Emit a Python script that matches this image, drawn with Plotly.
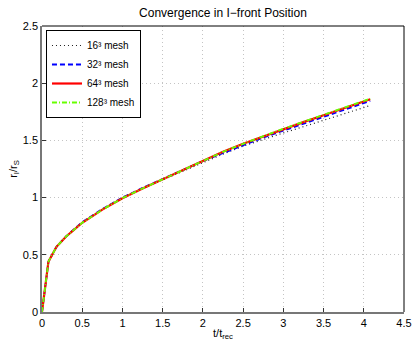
import plotly.graph_objects as go

# values
t = [0, 0.08, 0.18, 0.3, 0.4, 0.5, 0.75, 1.0, 1.25, 1.5, 1.75, 2.0, 2.25,
     2.5, 2.75, 3.0, 3.25, 3.5, 3.75, 4.0, 4.08]
r16 = [0, 0.44, 0.57, 0.66, 0.72, 0.785, 0.9, 1.0, 1.08, 1.155, 1.235, 1.31,
       1.38, 1.45, 1.51, 1.565, 1.62, 1.675, 1.73, 1.785, 1.805]
r32 = [0, 0.44, 0.57, 0.66, 0.725, 0.785, 0.9, 1.0, 1.085, 1.16, 1.24, 1.32,
       1.39, 1.46, 1.525, 1.585, 1.645, 1.705, 1.765, 1.825, 1.845]
r64 = [0, 0.44, 0.57, 0.66, 0.72, 0.78, 0.895, 0.995, 1.08, 1.16, 1.245,
       1.325, 1.4, 1.47, 1.535, 1.6, 1.66, 1.72, 1.78, 1.84, 1.86]
r128 = [0, 0.44, 0.57, 0.66, 0.72, 0.78, 0.895, 0.995, 1.08, 1.16, 1.245,
        1.325, 1.4, 1.47, 1.537, 1.602, 1.663, 1.723, 1.783, 1.843, 1.865]
names = ['16\u00b3 mesh', '32\u00b3 mesh', '64\u00b3 mesh', '128\u00b3 mesh']

fig = go.Figure()
fig.add_trace(go.Scatter(x=t, y=r16, mode='lines', name=names[0],
                         line=dict(color='#222222', width=1.2, dash='1px,3px')))
fig.add_trace(go.Scatter(x=t, y=r32, mode='lines', name=names[1],
                         line=dict(color='#0000ff', width=1.8, dash='5px,3px')))
fig.add_trace(go.Scatter(x=t, y=r64, mode='lines', name=names[2],
                         line=dict(color='#ff0000', width=2.2)))
fig.add_trace(go.Scatter(x=t, y=r128, mode='lines', name=names[3],
                         line=dict(color='#66ff00', width=1.8,
                                   dash='5px,2px,1px,2px')))

# black box on top and right, like matlab
fig.add_shape(type='line', xref='paper', yref='paper', x0=0, x1=1, y0=1, y1=1,
              line=dict(color='black', width=1))
fig.add_shape(type='line', xref='paper', yref='paper', x0=1, x1=1, y0=0, y1=1,
              line=dict(color='black', width=1))

axis_style = dict(showgrid=True, gridcolor='#c4c4c4', griddash='1px,3px',
                  gridwidth=1, zeroline=False, showline=True,
                  linecolor='#777777', linewidth=1.5, ticks='inside',
                  ticklen=4, tickcolor='#333333', automargin=False,
                  tickfont=dict(size=11, color='black'))

fig.update_xaxes(range=[0, 4.5], dtick=0.5, **axis_style,
                 title=dict(text='t/t<sub>rec</sub>', standoff=1,
                            font=dict(size=11)))
fig.update_yaxes(range=[0, 2.5], dtick=0.5, **axis_style,
                 title=dict(text='r<sub>I</sub>/r<sub>S</sub>', standoff=3,
                            font=dict(size=11)))

fig.update_layout(width=415, height=344,
                  margin=dict(l=42, r=11, t=26, b=32, autoexpand=False),
                  font=dict(family='Liberation Sans, Arial', size=11,
                            color='black'),
                  title=dict(text='Convergence in I\u2212front Position',
                             xref='paper', x=0.5, xanchor='center',
                             yref='container', y=0.962, yanchor='middle',
                             font=dict(size=12)),
                  plot_bgcolor='white', paper_bgcolor='white',
                  legend=dict(x=0.011, y=0.986, xanchor='left', yanchor='top',
                              bgcolor='white', bordercolor='black',
                              borderwidth=1, font=dict(size=10),
                              tracegroupgap=0, itemwidth=30))

# drop the page's default body margin so the figure sits at 0,0
fig.write_html("out.html", config={'displayModeBar': False},
               post_script="document.body.style.margin='0';")
